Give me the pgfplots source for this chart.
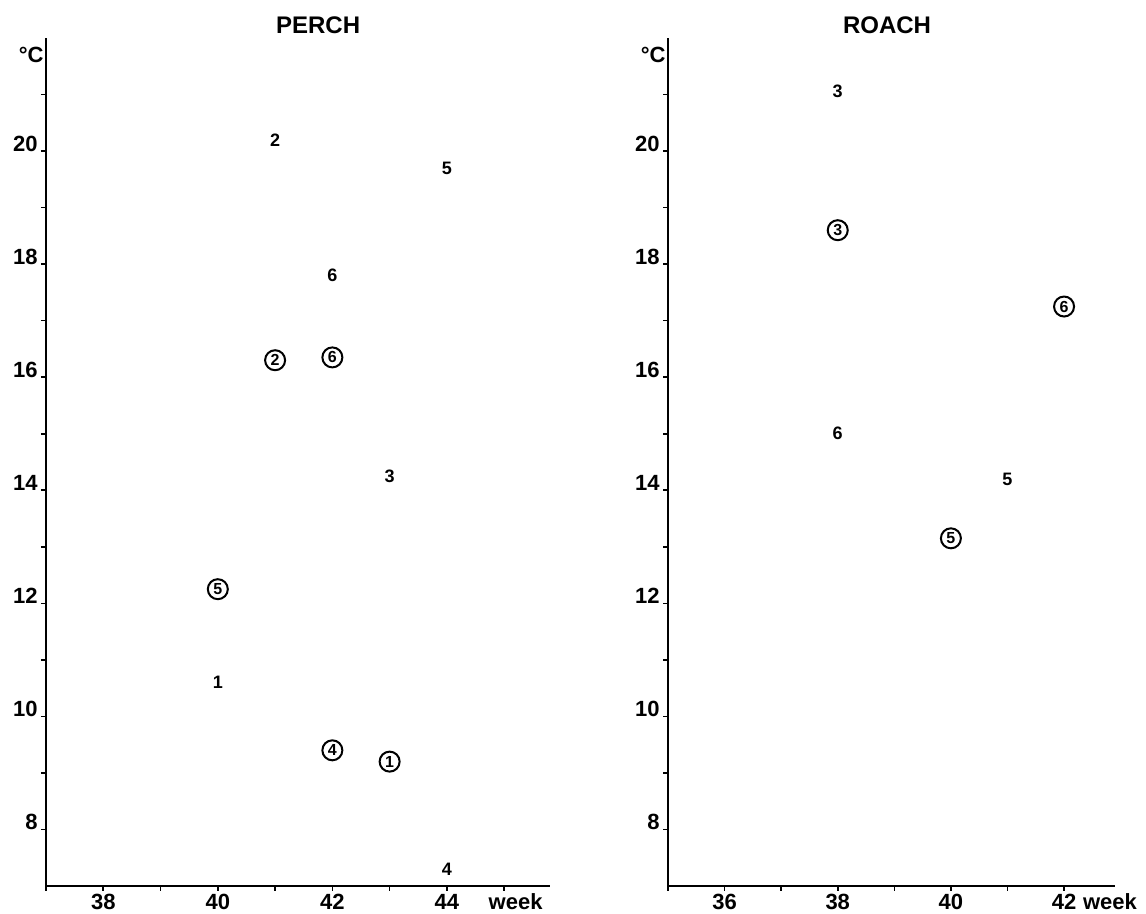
\documentclass[border=0pt]{standalone}
\usepackage{pgfplots}
\usepackage{pgfplotstable}
\pgfplotsset{compat=1.18}
\usepackage{fontspec}
\setmainfont{Liberation Sans}

% Water temperature (deg C) by week; lab = sample number
\pgfplotstableread{
x  y     lab
41 20.2  2
44 19.7  5
42 17.8  6
43 14.25 3
40 10.6  1
44 7.3   4
}\perchplain
\pgfplotstableread{
x  y     lab
41 16.3  2
42 16.35 6
40 12.25 5
42 9.4   4
43 9.2   1
}\perchcircled
\pgfplotstableread{
x  y     lab
38 21.05 3
38 15.0  6
41 14.2  5
}\roachplain
\pgfplotstableread{
x  y     lab
38 18.6  3
42 17.25 6
40 13.15 5
}\roachcircled

\tikzset{
  weeklab/.style={anchor=north, inner sep=0.8pt, text height=1.6ex, text depth=0pt,
    yshift=-2.5pt, font=\fontsize{11}{13}\selectfont\bfseries},
  paneltitle/.style={font=\fontsize{12}{14}\selectfont\bfseries, yshift=6.5pt},
  unitlab/.style={anchor=east, inner sep=1pt, font=\fontsize{11}{13}\selectfont\bfseries},
}

\pgfplotsset{
  panel/.style={
    scale only axis, height=424pt,
    ymin=7, ymax=22,
    axis lines=left, axis line style={-, line width=0.8pt},
    tick align=outside, major tick length=2.5pt, minor tick length=2.5pt,
    every tick/.style={black, line width=0.8pt},
    ytick={8,10,...,20}, minor ytick={9,11,...,21},
    tick label style={font=\fontsize{11}{13}\selectfont\bfseries},
    /pgf/number format/assume math mode=true,
    yticklabel style={anchor=base east, inner sep=1.5pt},
    xticklabel style={inner sep=0.8pt, text height=1.6ex, text depth=0pt},
    clip=false,
  },
  plainlab/.style={
    draw=none, mark=none, nodes near coords, point meta=explicit symbolic,
    nodes near coords align={center},
    every node near coord/.append style={anchor=center, inner sep=0pt,
      font=\fontsize{9}{10}\selectfont\bfseries},
  },
  circlab/.style={
    draw=none, mark=none, nodes near coords, point meta=explicit symbolic,
    nodes near coords align={center},
    every node near coord/.append style={anchor=center, circle, draw,
      line width=1pt, inner sep=0pt, minimum size=10pt,
      font=\fontsize{8}{9}\selectfont\bfseries},
  },
}

\begin{document}
\begin{tikzpicture}
\useasboundingbox (0,0) rectangle (573pt,457pt);

\begin{axis}[panel, at={(23pt,14pt)}, anchor=south west,
    width=252pt, xmin=37, xmax=45.8,
    xtick={38,40,42,44}, minor xtick={37,39,41,43,45}]
  \addplot[plainlab] table[meta=lab] {\perchplain};
  \addplot[circlab] table[meta=lab] {\perchcircled};
  \node[paneltitle] at (rel axis cs:0.54,1) {PERCH};
  \node[unitlab] at (axis cs:37,21.7) {°C};
  \node[weeklab] at (axis cs:45.2,7) {week};
\end{axis}

\begin{axis}[panel, at={(334pt,14pt)}, anchor=south west,
    width=223.5pt, xmin=35, xmax=42.9,
    xtick={36,38,40,42}, minor xtick={35,37,39,41}]
  \addplot[plainlab] table[meta=lab] {\roachplain};
  \addplot[circlab] table[meta=lab] {\roachcircled};
  \node[paneltitle] at (rel axis cs:0.49,1) {ROACH};
  \node[unitlab] at (axis cs:35,21.7) {°C};
  \node[weeklab, anchor=north west] at (axis cs:42.3,7) {week};
\end{axis}
\end{tikzpicture}
\end{document}
